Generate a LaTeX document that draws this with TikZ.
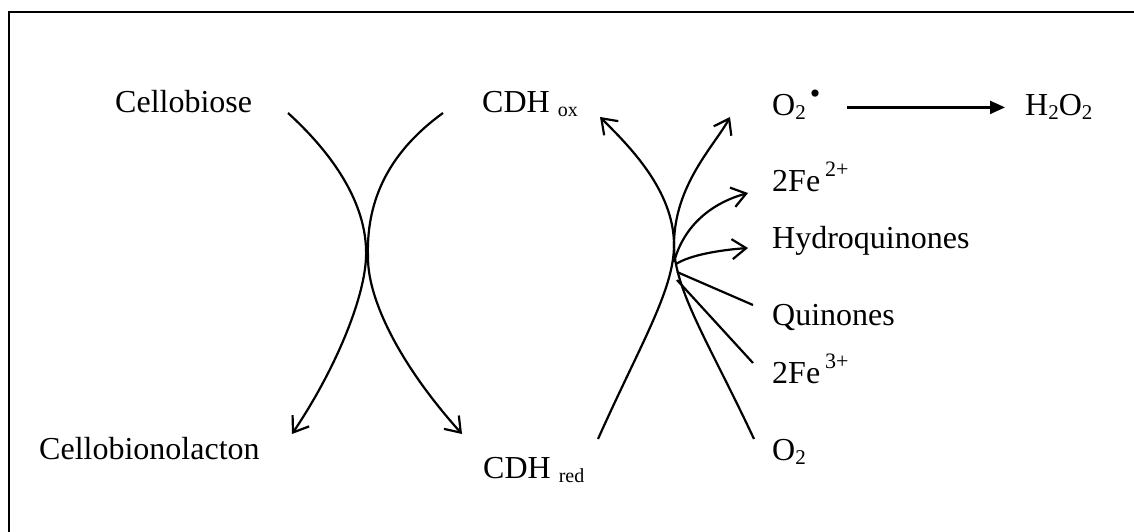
\documentclass[tikz,border=0pt]{standalone}
\usepackage{fontspec}
\setmainfont{Liberation Serif}
\usetikzlibrary{arrows.meta}
\newcommand\lsub[2][20]{\raisebox{-4pt}{\fontsize{#1}{#1}\selectfont #2}}
\newcommand\usup[1]{\raisebox{15pt}{\fontsize{22}{22}\selectfont #1}}
\begin{document}
\begin{tikzpicture}[x=1pt,y=-1pt,
  lbl/.style={anchor=base west, inner sep=0pt, font=\fontsize{32}{38}\selectfont},
  conn/.style={line width=2.2pt},
  barb/.style={conn,-{Straight Barb[length=14pt,width=20pt]}},
  tri/.style={conn,-{Triangle[length=15pt,width=13pt]}}]
\useasboundingbox (0,0) rectangle (1134,532);
% frame
\draw[line width=2.4pt] (9,532) -- (9,12) -- (1134,12);
% labels
\node[lbl] (cellobiose) at (115,113) {Cellobiose};
\node[lbl] (lacton) at (39,459) {Cellobionolacton};
\node[lbl] (cdhox) at (482,113) {CDH \lsub{ox}};
\node[lbl] (cdhred) at (483,478) {CDH \lsub{red}};
\node[lbl] (o2r) at (772,116) {O\lsub[21]{2}\hspace{4pt}\raisebox{12pt}{\fontsize{30}{30}\selectfont •}};
\node[lbl] (h2o2) at (1025,116) {H\lsub[21]{2}O\lsub[21]{2}};
\node[lbl] (fe2) at (772,191) {2Fe\hspace{5pt}\usup{2+}};
\node[lbl] (hq) at (772,248) {Hydroquinones};
\node[lbl] (q) at (772,325) {Quinones};
\node[lbl] (fe3) at (772,383) {2Fe\hspace{5pt}\usup{3+}};
\node[lbl] (o2) at (772,460) {O\lsub[21]{2}};
% connector end points
\coordinate (L1) at (288,113);
\coordinate (L2) at (292,434);
\coordinate (L3) at (443,113);
\coordinate (L4) at (462,434);
\coordinate (R1) at (598,439);
\coordinate (R2) at (600,117);
\coordinate (R3) at (754,439);
\coordinate (R4) at (730,117);
\coordinate (J) at (674,245);
\coordinate (Bfe2s) at (674,262);
\coordinate (Bfe2e) at (748,193);
\coordinate (Bhqs) at (676,264);
\coordinate (Bhqe) at (748,248);
\coordinate (Bqs) at (677,272);
\coordinate (Bqe) at (753,305);
\coordinate (Bfe3s) at (677,280);
\coordinate (Bfe3e) at (753,363);
% left kissing curves
\draw[barb] (L1) .. controls (345,165) and (368,215) .. (366,258)
                 .. controls (364,300) and (335,370) .. (L2);
\draw[barb] (L3) .. controls (385,155) and (366,205) .. (368,258)
                 .. controls (368,300) and (400,365) .. (L4);
% right curves
\draw[barb] (R1) .. controls (640,345) and (674,290) .. (J)
                 .. controls (674,190) and (628,145) .. (R2);
\draw[barb] (R3) .. controls (710,345) and (674,290) .. (J)
                 .. controls (674,185) and (715,145) .. (R4);
% branches
\draw[barb] (Bfe2s) .. controls (684,225) and (712,203) .. (Bfe2e);
\draw[barb] (Bhqs) .. controls (690,255) and (720,250) .. (Bhqe);
\draw[conn] (Bqs) -- (Bqe);
\draw[conn] (Bfe3s) -- (Bfe3e);
% O2 radical to H2O2
\draw[tri] (847,0 |- h2o2.west) -- ([xshift=-20pt]h2o2.west);
\end{tikzpicture}
\end{document}
